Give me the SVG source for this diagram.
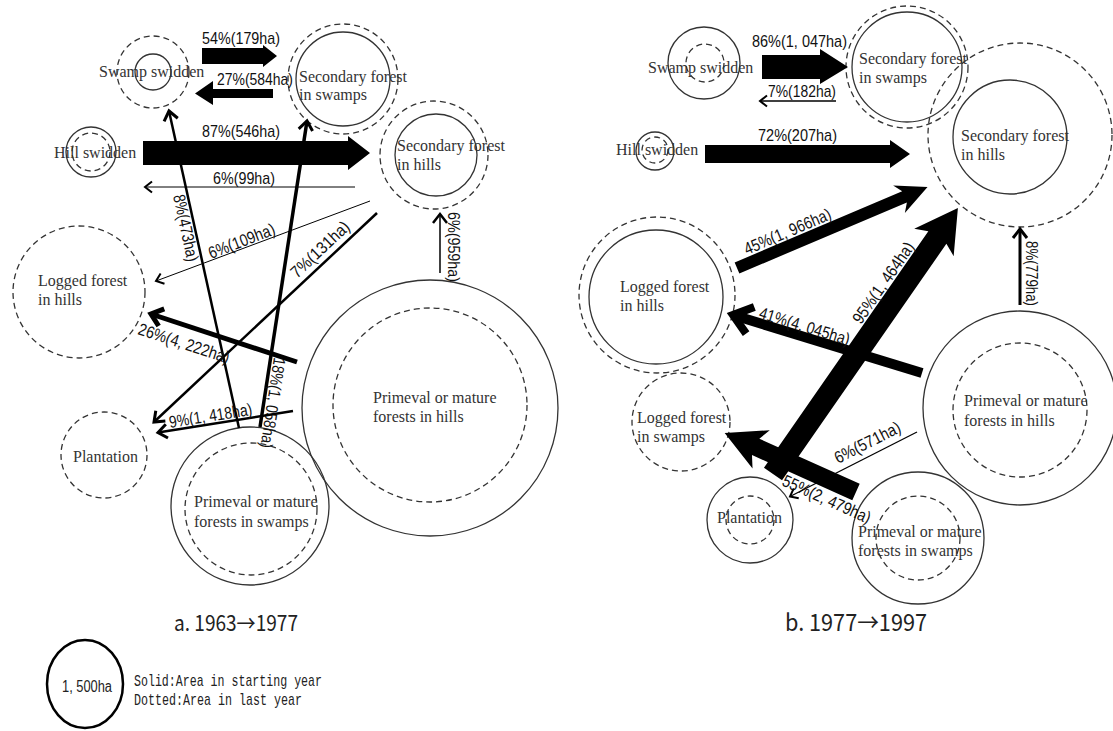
<svg xmlns="http://www.w3.org/2000/svg" width="1113" height="731" viewBox="0 0 1113 731">
<style>
.n{font-family:"Liberation Serif",serif;font-size:16px;fill:#333}
.l{font-family:"Liberation Sans",sans-serif;font-size:17px;fill:#111}
.cap{font-family:"Liberation Sans",sans-serif;fill:#222}
.capj{font-family:"Noto Sans CJK JP","Liberation Sans",sans-serif;fill:#222}
.mono{font-family:"Liberation Mono",monospace;font-size:17px;fill:#222}
.sc{fill:none;stroke:#333;stroke-width:1.3}
.dc{fill:none;stroke:#333;stroke-width:1.3;stroke-dasharray:6 4}
.ln{stroke:#000;fill:none}
.blk{fill:#000;stroke:none}
</style>
<defs>
<marker id="m1" markerUnits="userSpaceOnUse" markerWidth="1" markerHeight="1" orient="auto" overflow="visible"><path d="M-7,-5.5 L0,0 L-7,5.5" fill="none" stroke="#000" stroke-width="2"/></marker>
<marker id="m1b" markerUnits="userSpaceOnUse" markerWidth="1" markerHeight="1" orient="auto" overflow="visible"><path d="M-9,-7 L0,0 L-9,7" fill="none" stroke="#000" stroke-width="2.5"/></marker>
<marker id="m2" markerUnits="userSpaceOnUse" markerWidth="1" markerHeight="1" orient="auto" overflow="visible"><path d="M-9,-7 L0,0 L-9,7" fill="none" stroke="#000" stroke-width="3"/></marker>
<marker id="m3" markerUnits="userSpaceOnUse" markerWidth="1" markerHeight="1" orient="auto" overflow="visible"><path d="M-11,-9 L0,0 L-11,9" fill="none" stroke="#000" stroke-width="5"/></marker>
<marker id="m4" markerUnits="userSpaceOnUse" markerWidth="1" markerHeight="1" orient="auto" overflow="visible"><path d="M-18,-14 L0,0 L-18,14" fill="none" stroke="#000" stroke-width="8"/></marker>
</defs>
<rect width="1113" height="731" fill="#fff"/>

<!-- Panel a nodes -->
<g id="a-swamp-swidden"><circle class="dc" cx="153" cy="72" r="36"/><circle class="sc" cx="153" cy="72" r="18"/><text class="n" x="99" y="77">Swamp swidden</text></g>
<g id="a-secondary-swamps"><circle class="dc" cx="343" cy="79" r="55"/><circle class="sc" cx="343" cy="79" r="47"/><text class="n" x="299" y="82">Secondary forest</text><text class="n" x="299" y="100">in swamps</text></g>
<g id="a-hill-swidden"><circle class="sc" cx="91" cy="152" r="25"/><circle class="dc" cx="91" cy="152" r="19"/><text class="n" x="54" y="158">Hill swidden</text></g>
<g id="a-secondary-hills"><circle class="dc" cx="434" cy="155" r="54"/><circle class="sc" cx="436" cy="155" r="41"/><text class="n" x="397" y="151">Secondary forest</text><text class="n" x="397" y="170">in hills</text></g>
<g id="a-logged-hills"><circle class="dc" cx="79" cy="292" r="66"/><text class="n" x="38" y="286">Logged forest</text><text class="n" x="38" y="305">in hills</text></g>
<g id="a-plantation"><circle class="dc" cx="104" cy="455" r="43"/><text class="n" x="73" y="462">Plantation</text></g>
<g id="a-primeval-hills"><circle class="sc" cx="430" cy="408" r="128"/><circle class="dc" cx="430" cy="405" r="97"/><text class="n" x="373" y="403">Primeval or mature</text><text class="n" x="373" y="422">forests in hills</text></g>
<g id="a-primeval-swamps"><circle class="sc" cx="250" cy="506" r="79"/><circle class="dc" cx="251" cy="509" r="66"/><text class="n" x="194" y="507">Primeval or mature</text><text class="n" x="194" y="527">forests in swamps</text></g>

<!-- Panel b nodes -->
<g id="b-swamp-swidden"><circle class="sc" cx="704" cy="63" r="36"/><circle class="dc" cx="705" cy="63" r="19"/><text class="n" x="648" y="73">Swamp swidden</text></g>
<g id="b-secondary-swamps"><circle class="sc" cx="907" cy="67" r="55"/><circle class="dc" cx="907" cy="67" r="61"/><text class="n" x="859" y="64">Secondary forest</text><text class="n" x="859" y="83">in swamps</text></g>
<g id="b-hill-swidden"><circle class="sc" cx="655" cy="151" r="19"/><circle class="dc" cx="655" cy="150" r="13"/><text class="n" x="616" y="155">Hill swidden</text></g>
<g id="b-secondary-hills"><circle class="dc" cx="1020" cy="135" r="92"/><circle class="sc" cx="1010" cy="137" r="57"/><text class="n" x="961" y="141">Secondary forest</text><text class="n" x="961" y="160">in hills</text></g>
<g id="b-logged-hills"><circle class="dc" cx="657" cy="295" r="78"/><circle class="sc" cx="656" cy="297" r="67"/><text class="n" x="620" y="292">Logged forest</text><text class="n" x="620" y="311">in hills</text></g>
<g id="b-logged-swamps"><circle class="dc" cx="681" cy="422" r="49"/><text class="n" x="637" y="423">Logged forest</text><text class="n" x="637" y="442">in swamps</text></g>
<g id="b-plantation"><circle class="sc" cx="750" cy="520" r="43"/><circle class="dc" cx="750" cy="520" r="24"/><text class="n" x="717" y="523">Plantation</text></g>
<g id="b-primeval-swamps"><circle class="sc" cx="918" cy="538" r="66"/><circle class="dc" cx="918" cy="538" r="42"/><text class="n" x="858" y="537">Primeval or mature</text><text class="n" x="858" y="556">forests in swamps</text></g>
<g id="b-primeval-hills"><circle class="sc" cx="1020" cy="408" r="97"/><circle class="dc" cx="1020" cy="410" r="67"/><text class="n" x="964" y="406">Primeval or mature</text><text class="n" x="964" y="426">forests in hills</text></g>

<!-- Connectors -->
<g id="connectors">
<!-- panel a -->
<polygon class="blk" points="202,48 263,48 263,45 277,56 263,67 263,64 202,64"/>
<text class="l" x="202" y="44" textLength="78" lengthAdjust="spacingAndGlyphs">54%(179ha)</text>
<polygon class="blk" points="273,89 213,89 213,81 195,93.5 213,105 213,98 273,98"/>
<text class="l" x="217" y="85" textLength="76" lengthAdjust="spacingAndGlyphs">27%(584ha)</text>
<polygon class="blk" points="143,141 348,141 348,136 370,153 348,170 348,165 143,165"/>
<text class="l" x="202" y="137" textLength="78" lengthAdjust="spacingAndGlyphs">87%(546ha)</text>
<line class="ln" x1="355" y1="187" x2="145" y2="187" stroke-width="1" marker-end="url(#m1)"/>
<text class="l" x="213" y="184" textLength="62" lengthAdjust="spacingAndGlyphs">6%(99ha)</text>
<line class="ln" x1="370" y1="201" x2="156" y2="281" stroke-width="1" marker-end="url(#m1)"/>
<text class="l" transform="translate(211,259) rotate(-21)" textLength="70" lengthAdjust="spacingAndGlyphs">6%(109ha)</text>
<line class="ln" x1="377" y1="213" x2="154" y2="422" stroke-width="2.5" marker-end="url(#m2)"/>
<text class="l" transform="translate(297,279) rotate(-43.2)" textLength="74" lengthAdjust="spacingAndGlyphs">7%(131ha)</text>
<line class="ln" x1="239" y1="428" x2="169" y2="111" stroke-width="2.5" marker-end="url(#m2)"/>
<text class="l" transform="translate(173,196) rotate(77.7)" textLength="68" lengthAdjust="spacingAndGlyphs">8%(473ha)</text>
<line class="ln" x1="260" y1="427" x2="307" y2="121" stroke-width="3.5" marker-end="url(#m2)"/>
<text class="l" transform="translate(274,357) rotate(98.6)" textLength="91" lengthAdjust="spacingAndGlyphs">18%(1, 058ha)</text>
<line class="ln" x1="297" y1="362" x2="151" y2="314" stroke-width="5" marker-end="url(#m3)"/>
<text class="l" transform="translate(137,334) rotate(18.1)" textLength="95" lengthAdjust="spacingAndGlyphs">26%(4, 222ha)</text>
<line class="ln" x1="293" y1="411" x2="158" y2="432.5" stroke-width="2.5" marker-end="url(#m2)"/>
<text class="l" transform="translate(170,428) rotate(-9.1)" textLength="84" lengthAdjust="spacingAndGlyphs">9%(1, 418ha)</text>
<line class="ln" x1="440" y1="273" x2="440" y2="214" stroke-width="1.5" marker-end="url(#m1b)"/>
<text class="l" transform="translate(448,212) rotate(90)" textLength="70" lengthAdjust="spacingAndGlyphs">6%(959ha)</text>
<!-- panel b -->
<polygon class="blk" points="762,55 820,55 820,49 848,67 820,84 820,79 762,79"/>
<text class="l" x="752" y="47" textLength="95" lengthAdjust="spacingAndGlyphs">86%(1, 047ha)</text>
<line class="ln" x1="836" y1="101" x2="760" y2="101" stroke-width="1.5" marker-end="url(#m1)"/>
<text class="l" x="768" y="97" textLength="68" lengthAdjust="spacingAndGlyphs">7%(182ha)</text>
<polygon class="blk" points="705,145 890,145 890,140 910,154 890,168 890,163 705,163"/>
<text class="l" x="758" y="141" textLength="79" lengthAdjust="spacingAndGlyphs">72%(207ha)</text>
<polygon class="blk" transform="translate(737,268) rotate(-23)" points="0,-6 182,-6 176,-15 207,0 176,15 182,6 0,6"/>
<text class="l" transform="translate(747,255) rotate(-23)" textLength="93" lengthAdjust="spacingAndGlyphs">45%(1, 966ha)</text>
<polygon class="blk" transform="translate(773,474) rotate(-55.2)" points="0,-11 288,-11 282,-24 324,0 282,24 288,11 0,11"/>
<text class="l" transform="translate(861,325) rotate(-55.2)" textLength="95" lengthAdjust="spacingAndGlyphs">95%(1, 464ha)</text>
<line class="ln" x1="922" y1="373" x2="733" y2="315" stroke-width="10" marker-end="url(#m4)"/>
<text class="l" transform="translate(758,318) rotate(17)" textLength="94" lengthAdjust="spacingAndGlyphs">41%(4, 045ha)</text>
<polygon class="blk" transform="translate(856,492) rotate(204.2)" points="0,-9 110,-9 104,-21 144,0 104,21 110,9 0,9"/>
<text class="l" transform="translate(781,485) rotate(24.2)" textLength="95" lengthAdjust="spacingAndGlyphs">55%(2, 479ha)</text>
<line class="ln" x1="917" y1="432" x2="790" y2="496.5" stroke-width="1.3" marker-end="url(#m1)"/>
<text class="l" transform="translate(838,464) rotate(-27)" textLength="72" lengthAdjust="spacingAndGlyphs">6%(571ha)</text>
<line class="ln" x1="1020" y1="305" x2="1020" y2="229" stroke-width="3" marker-end="url(#m2)"/>
<text class="l" transform="translate(1026,241) rotate(90)" textLength="65" lengthAdjust="spacingAndGlyphs">8%(779ha)</text>
</g>

<!-- Captions -->
<text class="capj" x="174" y="631" font-size="22" textLength="124" lengthAdjust="spacingAndGlyphs">a. 1963→1977</text>
<text class="capj" x="785" y="631" font-size="24" textLength="142" lengthAdjust="spacingAndGlyphs">b. 1977→1997</text>

<!-- Legend -->
<g id="legend">
<ellipse cx="85" cy="684" rx="38" ry="44" fill="none" stroke="#000" stroke-width="2.5"/>
<text class="cap" x="62" y="692" font-size="16" textLength="50" lengthAdjust="spacingAndGlyphs">1, 500ha</text>
<text class="mono" x="134" y="686" textLength="188" lengthAdjust="spacingAndGlyphs">Solid:Area in starting year</text>
<text class="mono" x="134" y="705" textLength="168" lengthAdjust="spacingAndGlyphs">Dotted:Area in last year</text>
</g>
</svg>
